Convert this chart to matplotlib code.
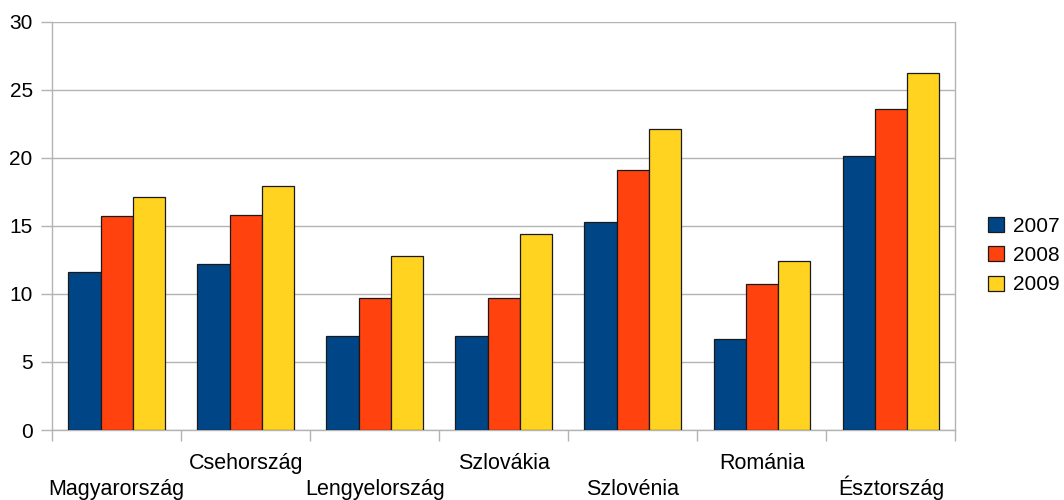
import numpy as np
import matplotlib
matplotlib.use("Agg")
import matplotlib.pyplot as plt

plt.rcParams["font.family"] = ["Liberation Sans", "DejaVu Sans"]

countries = ["Magyarország", "Csehország", "Lengyelország", "Szlovákia",
             "Szlovénia", "Románia", "Észtország"]
years = ["2007", "2008", "2009"]
v2007 = [11.6, 12.2, 6.9, 6.9, 15.3, 6.7, 20.1]
v2008 = [15.7, 15.8, 9.7, 9.7, 19.1, 10.7, 23.6]
v2009 = [17.1, 17.9, 12.8, 14.4, 22.1, 12.4, 26.2]
colors = ["#004586", "#ff420e", "#ffd320"]

GRID = "#b3b3b3"
FS = 15

fig = plt.figure(figsize=(10.64, 5.0), dpi=100)
ax = fig.add_axes([0.049, 0.14, 0.849, 0.817])

x = np.arange(len(countries))
width = 0.25
for i, (vals, year, col) in enumerate(zip([v2007, v2008, v2009], years, colors)):
    ax.bar(x + (i - 1) * width, vals, width, color=col, label=year,
           edgecolor="#1a1a1a", linewidth=0.9, zorder=3)

ax.set_xlim(-0.5, len(countries) - 0.5)
ax.set_ylim(0, 30)
ax.set_yticks(np.arange(0, 31, 5))
ax.yaxis.grid(True, color=GRID, linewidth=1.0, zorder=0)

# group boundaries carry the tick marks, centers carry the labels
ax.set_xticks(np.arange(-0.5, len(countries), 1.0))
ax.set_xticklabels([])
ax.set_xticks(x, countries, minor=True)

for side in ["left", "right", "bottom", "top"]:
    ax.spines[side].set_color(GRID)
    ax.spines[side].set_linewidth(1.0)
ax.spines["top"].set_visible(False)

ax.tick_params(axis="y", length=8, width=1, color=GRID, pad=6, labelsize=FS)
ax.tick_params(axis="x", which="major", length=8, width=1, color=GRID)
ax.tick_params(axis="x", which="minor", length=0, labelsize=15.5)

# staggered category labels, aligned on their baselines
for i, tick in enumerate(ax.xaxis.get_minor_ticks()):
    tick.label1.set_verticalalignment("baseline")
    tick.set_pad(46.5 if i % 2 == 0 else 28)

ax.legend(loc="center left", bbox_to_anchor=(0.929, 0.489),
          bbox_transform=fig.transFigure, frameon=False, fontsize=FS,
          handlelength=0.75, handleheight=0.75, handletextpad=0.45,
          labelspacing=0.5, borderpad=0, borderaxespad=0)

fig.savefig("out.png", dpi=100)
